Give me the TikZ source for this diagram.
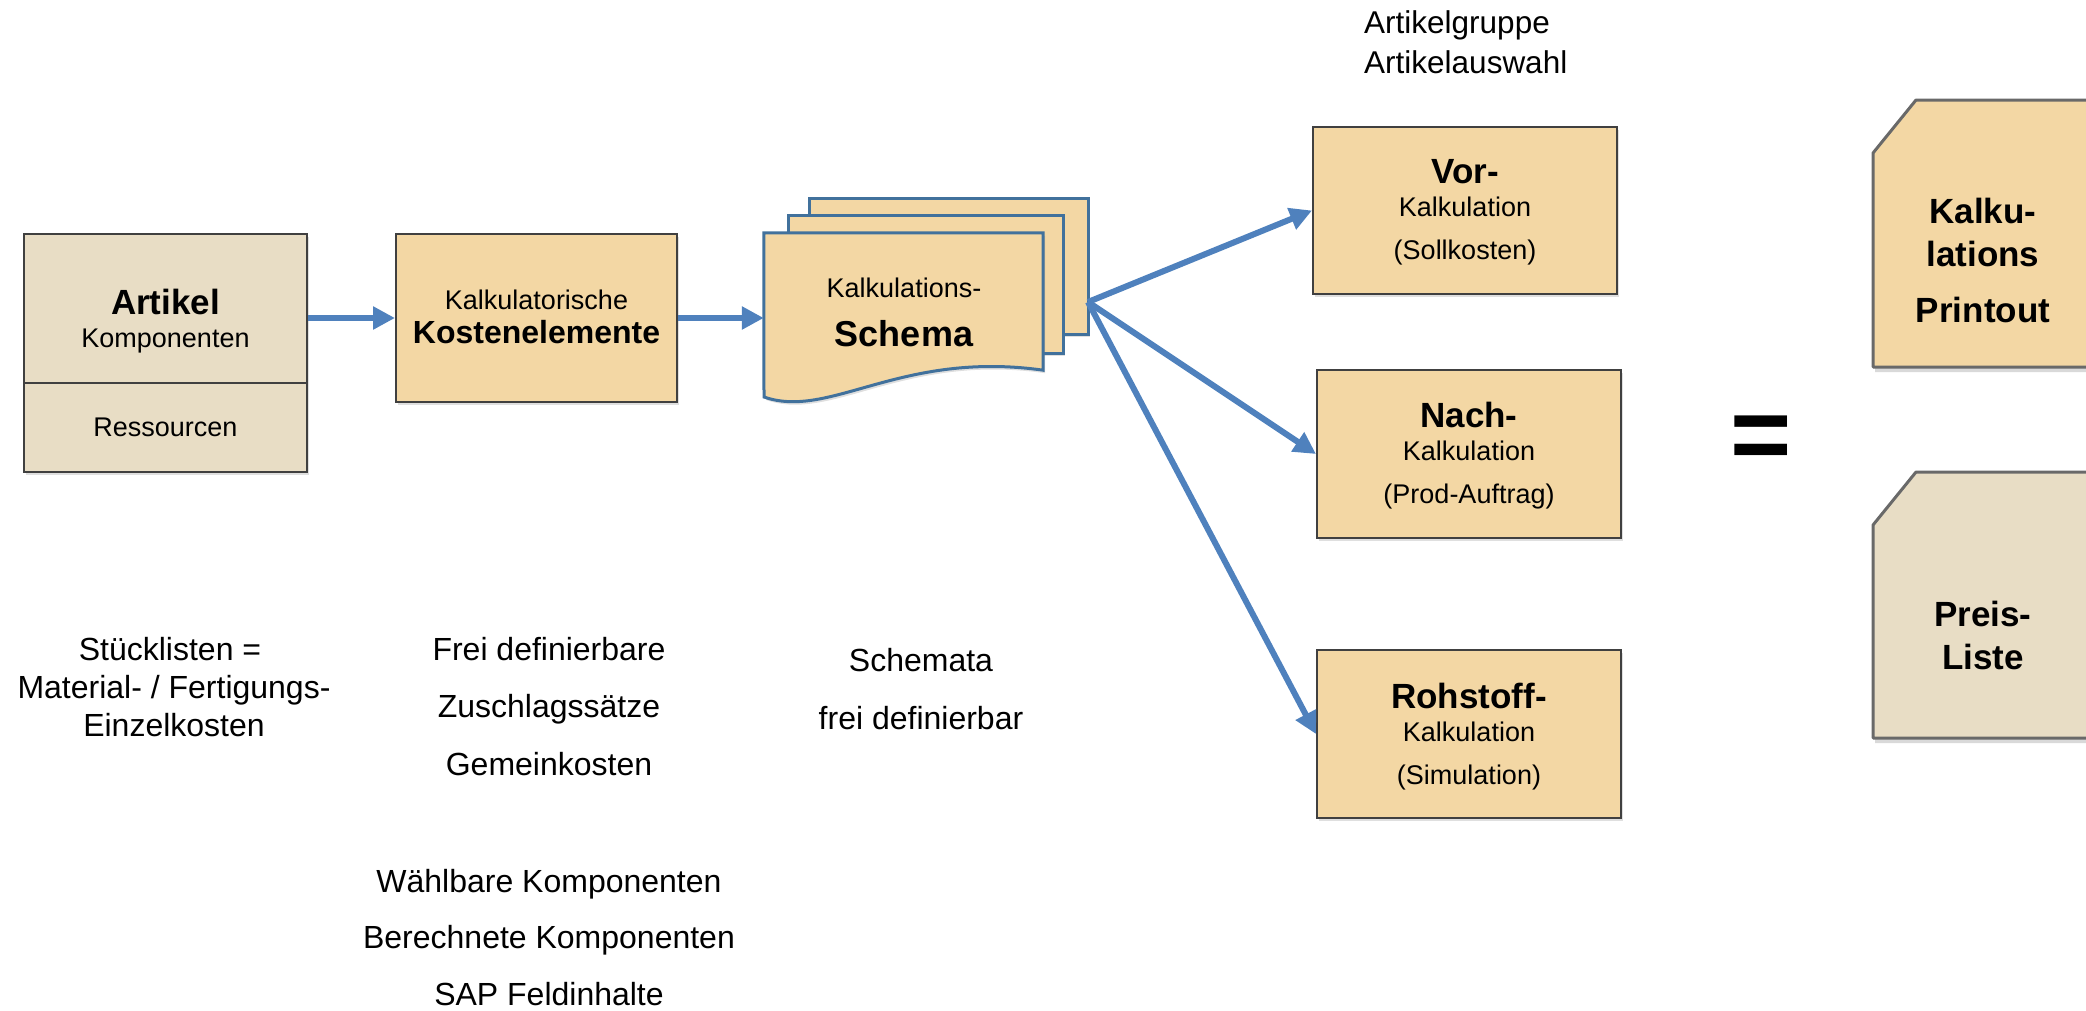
\documentclass[tikz,border=0pt]{standalone}
\usepackage{fontspec}
\setmainfont{Liberation Sans}
\usetikzlibrary{arrows.meta,shadows}

\definecolor{orangefill}{RGB}{243,215,164}
\definecolor{beigefill}{RGB}{232,221,197}
\definecolor{boxline}{RGB}{64,64,64}
\definecolor{pageline}{RGB}{65,113,156}
\definecolor{flowblue}{RGB}{79,129,189}
\definecolor{chamline}{RGB}{105,105,105}

\newcommand\fsmall{\fontsize{27}{32}\selectfont}
\newcommand\fbold{\fontsize{35}{42}\selectfont\bfseries}
\newcommand\fnote{\fontsize{32}{38}\selectfont}

\tikzset{
  box/.style={draw=boxline, line width=2pt, fill=orangefill, inner sep=0pt,
    drop shadow={shadow xshift=2pt, shadow yshift=-3pt, opacity=0.25}},
  beigebox/.style={box, fill=beigefill},
  pagebox/.style={draw=pageline, line width=3pt, fill=orangefill, inner sep=0pt,
    drop shadow={shadow xshift=2pt, shadow yshift=-3pt, opacity=0.25}},
  chambox/.style={draw=chamline, line width=3pt, line join=round,
    drop shadow={shadow xshift=2pt, shadow yshift=-5pt, opacity=0.3}},
  flow/.style={draw=flowblue, line width=6pt, -{Triangle[length=22pt,width=22pt]}},
  txt/.style={anchor=base, inner sep=0pt, font=\fsmall},
  boldtxt/.style={txt, font=\fbold},
  notetxt/.style={txt, font=\fnote}
}

\begin{document}
\begin{tikzpicture}[x=1pt, y=-1pt]
  \useasboundingbox (0,0) rectangle (2086,1010);

  % Artikel
  \node[beigebox, minimum width=283pt, minimum height=149pt] (artikel) at (165.5,308.5) {};
  \node[beigebox, minimum width=283pt, minimum height=89pt] (ressourcen) at (165.5,427.5) {};
  \node[boldtxt] (artikeltxt) at (165.5,314) {Artikel};
  \node[txt] (komptxt) at (165.5,347) {Komponenten};
  \node[txt] (resstxt) at (165.5,436) {Ressourcen};

  % Kostenelemente
  \node[box, minimum width=281pt, minimum height=168pt] (kosten) at (536.5,318) {};
  \node[txt] (kalktxt) at (536.5,309) {Kalkulatorische};
  \node[txt, font=\fontsize{32}{38}\selectfont\bfseries] (kostentxt) at (536.5,343) {Kostenelemente};

  % schema, three pages
  \node[pagebox, minimum width=279pt, minimum height=136pt] (back) at (948.5,266) {};
  \node[pagebox, minimum width=275pt, minimum height=138pt] (middle) at (925.5,284) {};
  \node[minimum width=279pt, minimum height=137pt, inner sep=0pt] (front) at (903.5,301.5) {};
  \draw[pagebox] (front.north west) -- (front.north east) -- (front.south east)
     .. controls (900,350) and (830,420) .. (764,397) -- cycle;
  \node[txt] (schemakalk) at (904,297) {Kalkulations-};
  \node[boldtxt, font=\fontsize{36}{42}\selectfont\bfseries] (schematxt) at (904,346) {Schema};
  \coordinate (fan) at (1088,302);

  % Kalkulationen
  \node[box, minimum width=304pt, minimum height=167pt] (vor) at (1465,210.5) {};
  \node[box, minimum width=304pt, minimum height=168pt] (nach) at (1469,454) {};
  \node[box, minimum width=304pt, minimum height=168pt] (roh) at (1469,734) {};

  \foreach \nm/\x/\yb/\hd/\sub in {vor/1465/183/Vor-/(Sollkosten),
                                  nach/1469/427/Nach-/(Prod-Auftrag),
                                  roh/1469/708/Rohstoff-/(Simulation)} {
    \node[boldtxt] (\nm-hd) at (\x,\yb) {\hd};
    \node[txt] (\nm-kalk) at (\x,\yb+33) {Kalkulation};
    \node[txt] (\nm-sub) at (\x,\yb+76) {\sub};
  }

  \node[notetxt, anchor=base west, font=\fontsize{31.5}{38}\selectfont] (gruppe) at (1364,33) {Artikelgruppe};
  \node[notetxt, anchor=base west, font=\fontsize{31.5}{38}\selectfont] (auswahl) at (1364,73) {Artikelauswahl};

  % arrows
  \path[flow] (artikel.east |- kosten.west) -- (kosten.west);
  \path[flow] (kosten.east) -- (kosten.east -| front.west);
  \foreach \dest in {vor, nach, roh}
    \path[flow] (fan) -- (\dest.west);

  % result
  \node[boldtxt, font=\fontsize{105}{110}\selectfont\bfseries] (equal) at (1761,470) {=};

  \draw[chambox, fill=orangefill] (1873,153) -- (1916,100) -- (2095,100) -- (2095,367) -- (1873,367) -- cycle;
  \draw[chambox, fill=beigefill] (1873,525) -- (1916,472) -- (2095,472) -- (2095,738) -- (1873,738) -- cycle;
  \foreach \nm/\yb/\t in {kalku/223/Kalku-, lations/266/lations, printout/322/Printout,
                          preis/626/Preis-, liste/669/Liste}
    \node[boldtxt] (\nm) at (1983,\yb) {\t};

  % notes
  \foreach \nm/\x/\yb/\t in {stueck/170/660/Stücklisten =, material/174/698/{Material- / Fertigungs-},
        einzel/174/736/Einzelkosten, frei/549/660/Frei definierbare, zuschlag/549/717/Zuschlagssätze,
        gemein/549/775/Gemeinkosten, schemata/921/671/Schemata, freidef/921/729/frei definierbar,
        waehlbar/549/892/Wählbare Komponenten, berechnet/549/948/Berechnete Komponenten,
        sap/549/1005/SAP Feldinhalte}
    \node[notetxt] (\nm) at (\x,\yb) {\t};

\end{tikzpicture}
\end{document}
